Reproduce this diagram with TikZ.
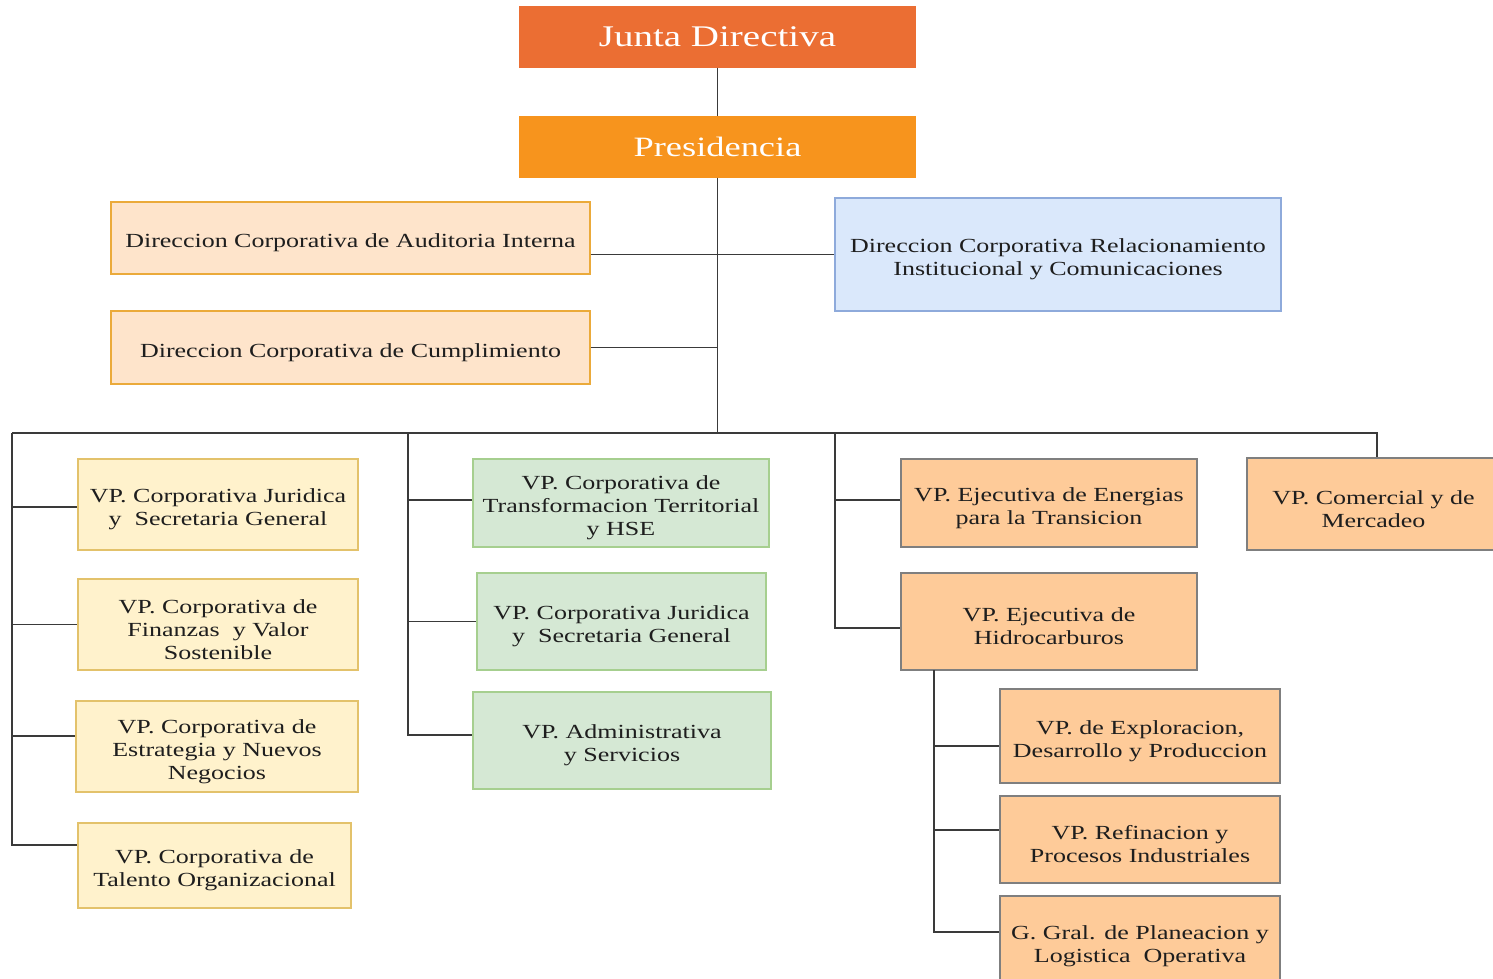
\documentclass[tikz,border=0pt]{standalone}
\usepackage{fontspec}
\setmainfont{Liberation Serif}[FakeStretch=1.3]
\usepackage{xcolor}

\definecolor{juntaorange}{HTML}{EB6E33}
\definecolor{presorange}{HTML}{F7941D}
\definecolor{dirfill}{HTML}{FEE4CB}
\definecolor{dirline}{HTML}{EBAA3A}
\definecolor{bluefill}{HTML}{DAE8FB}
\definecolor{blueline}{HTML}{8EAADB}
\definecolor{yelfill}{HTML}{FFF2CC}
\definecolor{yelline}{HTML}{E3C26B}
\definecolor{grnfill}{HTML}{D5E8D4}
\definecolor{grnline}{HTML}{A6CF8F}
\definecolor{orafill}{HTML}{FECB99}
\definecolor{oraline}{HTML}{7F7F7F}
\definecolor{textgray}{HTML}{1E1E1E}
\definecolor{linegray}{HTML}{3A3A3A}

\begin{document}
\begin{tikzpicture}[x=1pt,y=-1pt,
    box/.style={draw,line width=1.3pt,inner sep=0pt},
    boxtext/.style={align=center,text=textgray,inner sep=0pt,yshift=-5pt,
        font=\fontsize{20}{23}\selectfont},
    txt/.style={label={[boxtext]center:{#1}}},
    head/.style={box,text=white,minimum width=395,minimum height=60},
    dirbox/.style={box,fill=dirfill,draw=dirline},
    bluebox/.style={box,fill=bluefill,draw=blueline},
    yelbox/.style={box,fill=yelfill,draw=yelline},
    grnbox/.style={box,fill=grnfill,draw=grnline},
    orabox/.style={box,fill=orafill,draw=oraline},
    link/.style={draw=linegray,line width=1.4pt}]
        \useasboundingbox (0,0) rectangle (1493,978);
        \clip (0,0) rectangle (1493,978);

        % top
        \node [head,fill=juntaorange,draw=juntaorange,font=\fontsize{30}{34}\selectfont] (junta) at (717.5,37) {Junta Directiva};
        \node [head,fill=presorange,draw=presorange,font=\fontsize{28}{32}\selectfont] (pres) at (717.5,147) {Presidencia};

        % direcciones
        \node [dirbox,minimum width=479,minimum height=72,txt={Direccion Corporativa de Auditoria Interna}] (audit) at (350.5,238) {};
        \node [bluebox,minimum width=446,minimum height=113,txt={Direccion Corporativa Relacionamiento\\Institucional y Comunicaciones}] (relac) at (1058,254.5) {};
        \node [dirbox,minimum width=479,minimum height=73,txt={Direccion Corporativa de Cumplimiento}] (cumpl) at (350.5,347.5) {};

        % vicepresidencias corporativas
        \node [yelbox,minimum width=280,minimum height=91,txt={VP. Corporativa Juridica\\y~ Secretaria General}] (yel1) at (218,504.5) {};
        \node [yelbox,minimum width=280,minimum height=91,txt={VP. Corporativa de\\Finanzas~ y Valor\\Sostenible}] (yel2) at (218,624.5) {};
        \node [yelbox,minimum width=282,minimum height=91,txt={VP. Corporativa de\\Estrategia y Nuevos\\Negocios}] (yel3) at (217,746.5) {};
        \node [yelbox,minimum width=273,minimum height=85,txt={VP. Corporativa de\\Talento Organizacional}] (yel4) at (214.5,865.5) {};

        \node [grnbox,minimum width=296,minimum height=88,txt={VP. Corporativa de\\Transformacion Territorial\\y HSE}] (grn1) at (621,503) {};
        \node [grnbox,minimum width=289,minimum height=97,txt={VP. Corporativa Juridica\\y~ Secretaria General}] (grn2) at (621.5,621.5) {};
        \node [grnbox,minimum width=298,minimum height=97,txt={VP. Administrativa\\y Servicios}] (grn3) at (622,740.5) {};

        % vicepresidencias ejecutivas
        \node [orabox,minimum width=296,minimum height=88,txt={VP. Ejecutiva de Energias\\para la Transicion}] (ora1) at (1049,503) {};
        \node [orabox,minimum width=296,minimum height=97,txt={VP. Ejecutiva de\\Hidrocarburos}] (ora2) at (1049,621.5) {};
        \node [orabox,minimum width=253,minimum height=92,txt={VP. Comercial y de\\Mercadeo}] (com) at (1373.5,504) {};

        \node [orabox,minimum width=280,minimum height=94,txt={VP. de Exploracion,\\Desarrollo y Produccion}] (exp1) at (1140,736) {};
        \node [orabox,minimum width=280,minimum height=87,txt={VP. Refinacion y\\Procesos Industriales}] (exp2) at (1140,839.5) {};
        \node [orabox,minimum width=280,minimum height=90,txt={G. Gral. de Planeacion y\\Logistica~ Operativa}] (exp3) at (1140,941) {};

        \coordinate (busL) at (12,433);
        \coordinate (busR) at (1377,433);
        \coordinate (colB) at (408,433);
        \coordinate (colC) at (835,433);
        \coordinate (subT) at (934,670);

        \draw[link] (junta) to (pres);
        \draw[link] (pres.south) to (pres.south |- busL);
        \draw[link] (audit.east |- relac.west) to (relac.west);
        \draw[link] (cumpl.east) to (cumpl.east -| pres.south);
        \draw[link] (busL) -- (busR) -- (busR |- com.north);

        % branch points on the boxes
        \foreach \n/\s in {yel1/-2.5,yel2/0,yel3/10.5,yel4/20.5,grn1/3,grn2/0,grn3/5.5,
                           ora1/3,ora2/-6.5,exp1/-10,exp2/9.5,exp3/9}
            \coordinate (b\n) at ([yshift=\s pt]\n.west);

        \draw[link] (busL) |- (byel4);
        \foreach \n in {yel1,yel2,yel3}
            \draw[link] (busL |- b\n) to (b\n);
        \draw[link] (colB) |- (bgrn3);
        \foreach \n in {grn1,grn2}
            \draw[link] (colB |- b\n) to (b\n);
        \draw[link] (colC) |- (bora2);
        \draw[link] (colC |- bora1) to (bora1);
        \draw[link] (subT) |- (bexp3);
        \foreach \n in {exp1,exp2}
            \draw[link] (subT |- b\n) to (b\n);
\end{tikzpicture}
\end{document}
